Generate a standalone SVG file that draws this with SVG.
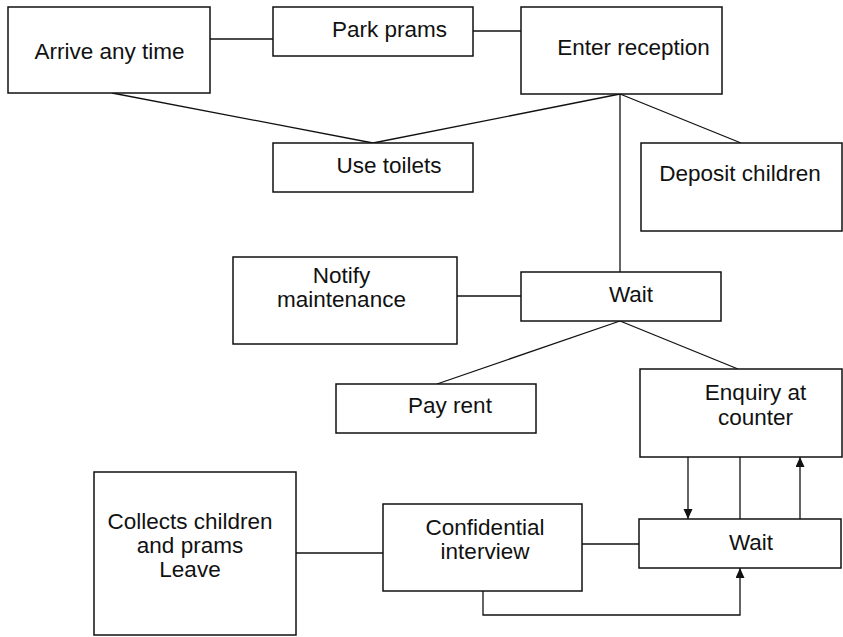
<svg xmlns="http://www.w3.org/2000/svg" width="843" height="637" viewBox="0 0 843 637">
  <style>
    .box { fill: #fff; stroke: #111; stroke-width: 1.5; }
    .lbl { font-family: "Liberation Sans", Arial, sans-serif; font-size: 22.5px; fill: #111; text-anchor: middle; }
    .conn { fill: none; stroke: #111; stroke-width: 1.3; }
  </style>
  <defs>
    <marker id="arrow" markerUnits="userSpaceOnUse" markerWidth="10" markerHeight="10" refX="10" refY="4.5" orient="auto">
      <path d="M0,0 L10,4.5 L0,9 z" fill="#111"/>
    </marker>
  </defs>
  <rect width="843" height="637" fill="#fff"/>

  <g id="connectors">
    <line class="conn" x1="210" y1="39" x2="273" y2="39"/>
    <line class="conn" x1="473" y1="31" x2="521" y2="31"/>
    <line class="conn" x1="112" y1="93" x2="373" y2="143"/>
    <line class="conn" x1="620" y1="94" x2="373" y2="143"/>
    <line class="conn" x1="620" y1="94" x2="741" y2="143"/>
    <line class="conn" x1="620" y1="94" x2="620" y2="272"/>
    <line class="conn" x1="457" y1="296" x2="521" y2="296"/>
    <line class="conn" x1="620" y1="321" x2="437" y2="384"/>
    <line class="conn" x1="620" y1="321" x2="738" y2="369"/>
    <line class="conn" x1="688" y1="457" x2="688" y2="519" marker-end="url(#arrow)"/>
    <line class="conn" x1="740" y1="457" x2="740" y2="519"/>
    <line class="conn" x1="800" y1="519" x2="800" y2="457" marker-end="url(#arrow)"/>
    <line class="conn" x1="296" y1="553" x2="383" y2="553"/>
    <line class="conn" x1="582" y1="544" x2="639" y2="544"/>
    <polyline class="conn" points="483,591 483,615 740,615 740,568" marker-end="url(#arrow)"/>
  </g>

  <g id="arrive">
    <rect class="box" x="8" y="7" width="202" height="86"/>
    <text class="lbl" x="109.5" y="59">Arrive any time</text>
  </g>
  <g id="park-prams">
    <rect class="box" x="273" y="7" width="200" height="49"/>
    <text class="lbl" x="389.5" y="37">Park prams</text>
  </g>
  <g id="enter-reception">
    <rect class="box" x="521" y="7" width="201" height="87"/>
    <text class="lbl" x="633.5" y="55">Enter reception</text>
  </g>
  <g id="use-toilets">
    <rect class="box" x="273" y="143" width="200" height="49"/>
    <text class="lbl" x="389" y="173">Use toilets</text>
  </g>
  <g id="deposit-children">
    <rect class="box" x="641" y="143" width="201" height="88"/>
    <text class="lbl" x="740" y="181">Deposit children</text>
  </g>
  <g id="notify-maintenance">
    <rect class="box" x="233" y="257" width="224" height="87"/>
    <text class="lbl" x="341.5" y="283">Notify</text>
    <text class="lbl" x="341.5" y="307">maintenance</text>
  </g>
  <g id="wait-1">
    <rect class="box" x="521" y="272" width="200" height="49"/>
    <text class="lbl" x="631" y="302">Wait</text>
  </g>
  <g id="pay-rent">
    <rect class="box" x="336" y="384" width="200" height="49"/>
    <text class="lbl" x="450" y="413">Pay rent</text>
  </g>
  <g id="enquiry">
    <rect class="box" x="640" y="369" width="202" height="88"/>
    <text class="lbl" x="755.5" y="400">Enquiry at</text>
    <text class="lbl" x="755.5" y="425">counter</text>
  </g>
  <g id="wait-2">
    <rect class="box" x="639" y="519" width="202" height="49"/>
    <text class="lbl" x="751" y="550">Wait</text>
  </g>
  <g id="confidential-interview">
    <rect class="box" x="383" y="504" width="199" height="87"/>
    <text class="lbl" x="485" y="535">Confidential</text>
    <text class="lbl" x="485" y="559">interview</text>
  </g>
  <g id="collects">
    <rect class="box" x="94" y="472" width="202" height="163"/>
    <text class="lbl" x="190" y="529">Collects children</text>
    <text class="lbl" x="190" y="553">and prams</text>
    <text class="lbl" x="190" y="577">Leave</text>
  </g>
</svg>
